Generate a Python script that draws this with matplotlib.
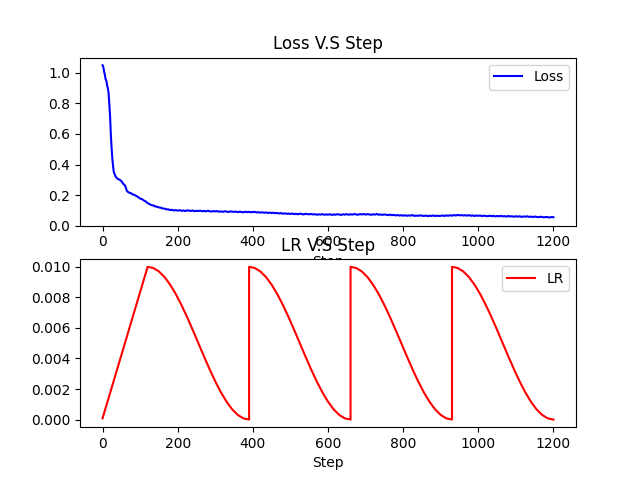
import matplotlib
matplotlib.use("Agg")
import matplotlib.pyplot as plt

# ---- Loss data ----
loss_steps_a = list(range(0, 31, 2))
loss_a = [1.05, 1.04, 1.01, 0.99, 0.96, 0.95, 0.92, 0.90, 0.87, 0.80,
          0.72, 0.60, 0.51, 0.44, 0.39, 0.35]
loss_steps_b = list(range(35, 201, 5))
loss_b = [0.32, 0.306, 0.301, 0.292, 0.274, 0.262, 0.226, 0.216, 0.213, 0.204,
          0.201, 0.194, 0.186, 0.177, 0.173, 0.164, 0.158, 0.147, 0.141, 0.134,
          0.132, 0.126, 0.123, 0.119, 0.117, 0.112, 0.111, 0.107, 0.106, 0.102,
          0.103, 0.099, 0.101, 0.098]
loss_steps_c = list(range(205, 1201, 5))
loss_c = [0.101, 0.097, 0.099, 0.095, 0.100, 0.098, 0.096, 0.099, 0.094, 0.097,
          0.095, 0.098, 0.094, 0.096, 0.093, 0.097, 0.094, 0.092, 0.095, 0.093,
          0.095, 0.091, 0.093, 0.090, 0.094, 0.092, 0.089, 0.093, 0.091, 0.090,
          0.092, 0.088, 0.091, 0.089, 0.087, 0.091, 0.088, 0.090, 0.087, 0.089,
          0.090, 0.086, 0.088, 0.085, 0.087, 0.084, 0.086, 0.083, 0.085, 0.082,
          0.084, 0.081, 0.083, 0.079, 0.082, 0.078, 0.080, 0.077, 0.079, 0.076,
          0.079, 0.075, 0.077, 0.074, 0.078, 0.076, 0.073, 0.077, 0.075, 0.074,
          0.076, 0.073, 0.075, 0.071, 0.074, 0.072, 0.075, 0.071, 0.073, 0.072,
          0.074, 0.070, 0.073, 0.071, 0.075, 0.072, 0.070, 0.074, 0.072, 0.075,
          0.071, 0.074, 0.072, 0.076, 0.073, 0.071, 0.075, 0.073, 0.076, 0.072,
          0.075, 0.073, 0.071, 0.074, 0.072, 0.076, 0.071, 0.073, 0.070, 0.073,
          0.071, 0.069, 0.072, 0.068, 0.070, 0.067, 0.069, 0.066, 0.068, 0.065,
          0.068, 0.064, 0.067, 0.065, 0.069, 0.063, 0.066, 0.064, 0.067, 0.065,
          0.063, 0.066, 0.062, 0.065, 0.063, 0.067, 0.062, 0.065, 0.063, 0.064,
          0.066, 0.063, 0.067, 0.064, 0.068, 0.065, 0.069, 0.066, 0.070, 0.067,
          0.069, 0.066, 0.068, 0.065, 0.069, 0.064, 0.067, 0.063, 0.066, 0.064,
          0.066, 0.062, 0.065, 0.063, 0.061, 0.065, 0.062, 0.064, 0.060, 0.063,
          0.061, 0.064, 0.060, 0.062, 0.059, 0.063, 0.060, 0.061, 0.058, 0.061,
          0.059, 0.061, 0.057, 0.060, 0.058, 0.061, 0.057, 0.059, 0.056, 0.059,
          0.057, 0.055, 0.058, 0.056, 0.054, 0.057, 0.055, 0.053, 0.056, 0.055]
loss_steps = loss_steps_a + loss_steps_b + loss_steps_c
loss_vals = loss_a + loss_b + loss_c

# ---- LR data ----
lr_steps = [0,
            120, 135, 150, 165, 180, 195, 210, 225, 240, 255, 270, 285, 300, 315, 330, 345, 360, 375, 390,
            390, 405, 420, 435, 450, 465, 480, 495, 510, 525, 540, 555, 570, 585, 600, 615, 630, 645, 660,
            660, 675, 690, 705, 720, 735, 750, 765, 780, 795, 810, 825, 840, 855, 870, 885, 900, 915, 930,
            930, 945, 960, 975, 990, 1005, 1020, 1035, 1050, 1065, 1080, 1095, 1110, 1125, 1140, 1155, 1170, 1185, 1200]
lr_vals = [0.00008,
           0.01, 0.009924, 0.009698, 0.00933, 0.00883, 0.008214, 0.0075, 0.00671, 0.005868, 0.005,
           0.004132, 0.00329, 0.0025, 0.001786, 0.00117, 0.00067, 0.000302, 0.000076, 0.0,
           0.01, 0.009924, 0.009698, 0.00933, 0.00883, 0.008214, 0.0075, 0.00671, 0.005868, 0.005,
           0.004132, 0.00329, 0.0025, 0.001786, 0.00117, 0.00067, 0.000302, 0.000076, 0.0,
           0.01, 0.009924, 0.009698, 0.00933, 0.00883, 0.008214, 0.0075, 0.00671, 0.005868, 0.005,
           0.004132, 0.00329, 0.0025, 0.001786, 0.00117, 0.00067, 0.000302, 0.000076, 0.0,
           0.01, 0.009924, 0.009698, 0.00933, 0.00883, 0.008214, 0.0075, 0.00671, 0.005868, 0.005,
           0.004132, 0.00329, 0.0025, 0.001786, 0.00117, 0.00067, 0.000302, 0.000076, 0.0]

fig, (ax1, ax2) = plt.subplots(2, 1, figsize=(6.4, 4.8), dpi=100)

ax1.plot(loss_steps, loss_vals, color='b', label='Loss')
ax1.set_title('Loss V.S Step')
ax1.set_xlabel('Step')
ax1.set_ylim(bottom=0)
ax1.legend(loc='upper right')

ax2.plot(lr_steps, lr_vals, color='r', label='LR')
ax2.set_title('LR V.S Step')
ax2.set_xlabel('Step')
ax2.legend(loc='upper right')

fig.savefig('out.png', dpi=100)
